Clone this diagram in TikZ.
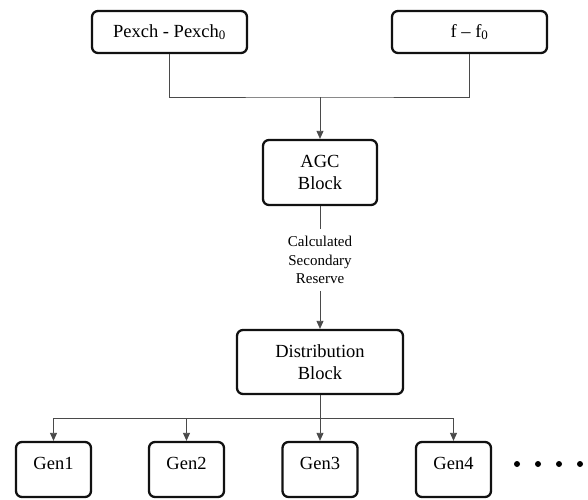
\documentclass[tikz,border=0pt]{standalone}
\usepackage{fontspec}
\setmainfont{Liberation Serif}
\usetikzlibrary{arrows.meta,positioning}
\definecolor{LineColor}{HTML}{4A4A4A}
\definecolor{FrameColor}{HTML}{111111}

\begin{document}
\begin{tikzpicture}[
      x=1pt, y=-1pt,
      every node/.style={font=\fontsize{18.5}{22}\selectfont},
      block/.style={draw=FrameColor, line width=2.3pt, rounded corners=6pt, align=center, inner sep=0pt},
      genblock/.style={block, minimum width=75pt, text height=27pt, text depth=28pt},
      link/.style={draw=LineColor, line width=0.8pt},
      feed/.style={link, -{Triangle[length=8pt, width=7pt]}},
  ]
  \useasboundingbox (0,0) rectangle (588,499);
  % ┌────────┐
  % │ Blocks │
  % └────────┘
  \node[block, minimum width=155pt, minimum height=42pt] (pexch) at (169.5,32) {Pexch - Pexch\textsubscript{0}};
  \node[block, minimum width=155pt, minimum height=42pt] (freq) at (469.5,32) {f -- f\textsubscript{0}};
  \node[block, minimum width=114pt, minimum height=65pt] (agc) at (320,172.5) {AGC\\Block};
  \node[font=\fontsize{15}{18.5}\selectfont, align=center, inner sep=7pt] (reserve) at (320,260) {Calculated\\Secondary\\Reserve};
  \node[block, minimum width=166pt, minimum height=64pt] (dist) at (320,362) {Distribution\\Block};
  \foreach \i/\x in {1/53.5, 2/186.5, 3/320, 4/453.5}
    \node[genblock] (gen\i) at (\x,469.5) {Gen\i};
  \foreach \x in {517,538,559,580}
    \fill (\x,464) circle (3pt);
  % ┌──────────────────┐
  % │ Verbindungslinien │
  % └──────────────────┘
  \coordinate (merge) at (320,97);
  \coordinate (split) at (320,418);
  \draw[link] (pexch.south) |- (merge) -| (freq.south);
  \draw[feed] (merge) -- (agc.north);
  \draw[link] (agc.south) -- (reserve.north);
  \draw[feed] (reserve.south) -- (dist.north);
  \draw[link] (dist.south) -- (split);
  \draw[link] (split -| gen1.north) -- (split -| gen4.north);
  \foreach \i in {1,...,4}
    \draw[feed] (split -| gen\i.north) -- (gen\i.north);
\end{tikzpicture}
\end{document}
